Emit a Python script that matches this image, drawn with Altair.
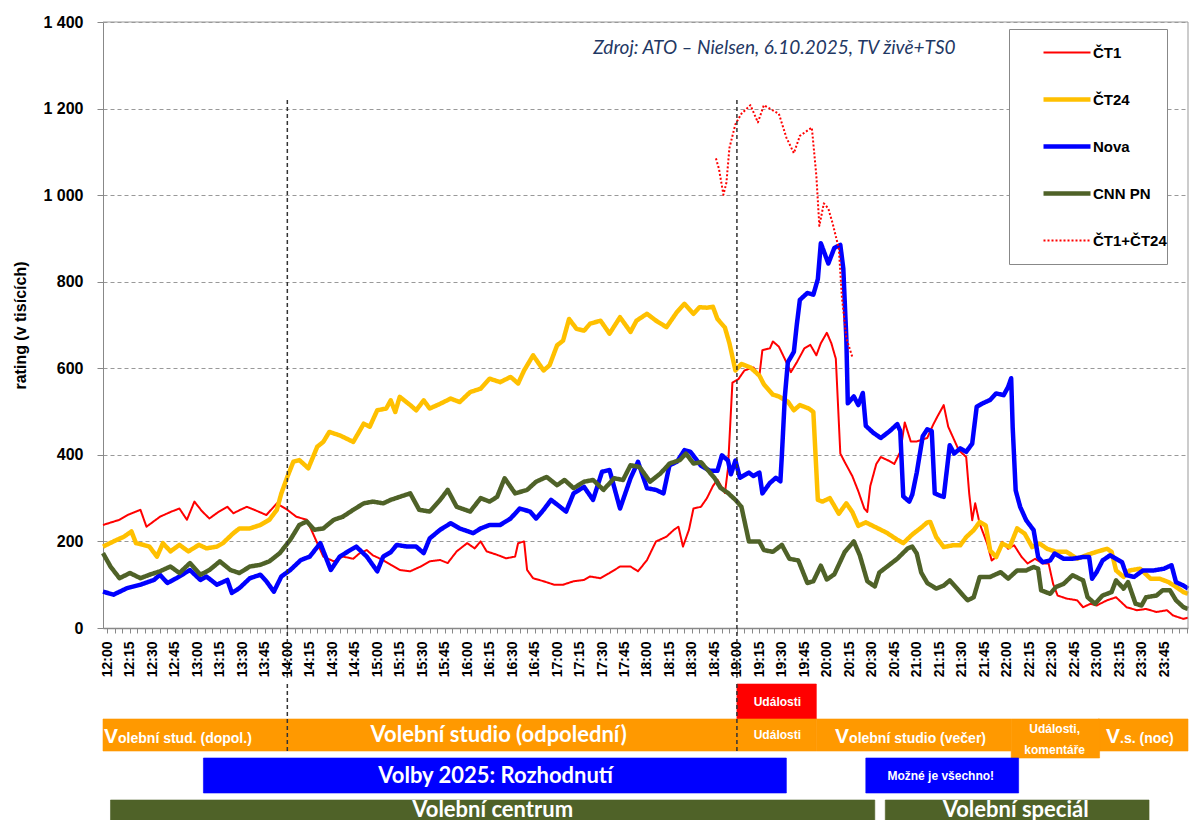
import altair as alt
import pandas as pd

# ---------------- data: (minutes after 12:00, rating in thousands) ----------------
CT1 = [(-3,238),(8,250),(14,262),(22,273),(26,234),(35,257),(42,268),(48,276),(53,250),(58,292),(63,270),(68,253),(74,268),(80,280),(84,265),(88,272),(93,280),(100,270),(106,261),(113,288),(120,273),(126,257),(133,250),(140,196),(144,165),(151,154),(157,165),(164,160),(168,172),(173,180),(177,168),(182,160),(189,146),(195,134),(202,131),(209,142),(215,154),(222,157),(227,150),(233,177),(240,196),(245,184),(249,200),(253,177),(260,169),(266,161),(272,165),(274,196),(278,200),(280,134),(284,115),(291,108),(298,100),(304,100),(311,108),(318,111),(322,119),(329,115),(335,127),(342,142),(349,142),(354,131),(360,157),(366,200),(373,211),(378,227),(381,234),(384,188),(388,227),(391,276),(396,280),(400,300),(404,328),(407,343),(412,312),(414,367),(417,567),(421,575),(425,595),(431,602),(435,583),(437,642),(442,646),(444,662),(448,650),(453,614),(456,591),(460,614),(465,646),(469,654),(473,630),(476,658),(480,682),(483,658),(486,622),(489,403),(492,383),(497,351),(501,316),(505,276),(507,268),(509,328),(513,379),(516,395),(521,387),(525,379),(529,407),(532,475),(536,431),(540,431),(547,439),(551,470),(554,490),(558,515),(561,465),(564,442),(568,411),(573,395),(575,311),(577,249),(579,288),(582,241),(587,195),(590,156),(593,164),(597,199),(601,183),(605,191),(610,164),(614,149),(619,160),(624,149),(628,149),(631,102),(634,75),(640,68),(647,64),(651,48),(656,56),(660,52),(667,64),(673,71),(680,48),(687,41),(693,44),(700,37),(707,41),(711,29),(718,21),(721,24)]

CT24 = [(-3,188),(4,200),(11,211),(16,223),(19,196),(24,192),(28,188),(33,165),(37,196),(42,177),(48,192),(54,177),(61,192),(66,184),(73,188),(77,196),(84,219),(88,230),(95,230),(102,238),(108,250),(113,273),(116,311),(120,349),(124,384),(128,388),(134,369),(140,419),(144,430),(148,453),(155,445),(164,430),(171,472),(175,465),(180,503),(186,507),(189,526),(192,499),(195,534),(202,515),(206,503),(211,526),(215,507),(222,518),(229,530),(235,522),(242,545),(249,553),(255,576),(262,568),(269,580),(274,565),(278,595),(284,630),(291,595),(295,607),(300,653),(304,664),(308,714),(313,691),(318,687),(322,703),(329,710),(335,680),(342,718),(349,684),(353,710),(360,726),(366,710),(373,695),(380,730),(385,749),(391,726),(395,741),(400,740),(404,742),(407,714),(412,694),(415,658),(419,595),(423,610),(429,602),(435,583),(438,563),(444,539),(448,535),(454,523),(458,503),(462,515),(468,507),(471,499),(474,296),(477,292),(482,300),(488,264),(493,288),(497,268),(501,236),(506,244),(513,232),(520,220),(527,204),(531,196),(537,216),(543,232),(547,244),(549,245),(553,210),(558,187),(564,191),(569,191),(573,210),(578,226),(582,245),(586,237),(589,179),(593,164),(597,195),(602,187),(607,230),(612,218),(617,187),(622,195),(627,183),(633,176),(640,176),(647,160),(653,168),(660,176),(667,183),(670,176),(673,133),(678,118),(682,133),(689,137),(696,114),(702,114),(708,106),(713,95),(718,83),(721,79)]

NOVA = [(-3,84),(4,77),(13,92),(22,100),(31,111),(35,123),(40,104),(46,115),(55,134),(62,111),(66,119),(73,100),(80,111),(83,81),(88,92),(95,115),(102,123),(106,108),(111,84),(116,119),(122,134),(129,157),(135,165),(142,196),(149,134),(155,165),(162,180),(166,188),(173,165),(180,131),(184,165),(189,175),(193,192),(200,188),(206,188),(211,173),(215,207),(222,227),(229,242),(235,230),(244,219),(249,230),(255,238),(262,238),(269,253),(275,276),(282,269),(286,253),(291,273),(296,296),(302,280),(306,269),(311,311),(318,326),(324,296),(330,361),(335,365),(342,276),(349,346),(354,384),(360,323),(366,319),(371,311),(375,376),(380,384),(385,411),(389,407),(396,375),(402,363),(407,363),(410,399),(414,387),(416,355),(419,387),(422,347),(428,359),(431,351),(435,359),(437,311),(442,335),(446,347),(449,339),(450,399),(452,535),(454,614),(458,638),(460,702),(462,758),(467,774),(471,770),(474,806),(476,889),(481,842),(485,878),(489,885),(491,830),(493,670),(494,519),(498,535),(501,515),(504,543),(506,467),(511,451),(516,439),(522,455),(527,471),(529,455),(531,304),(535,292),(537,308),(540,359),(544,443),(547,459),(550,455),(552,311),(556,305),(558,303),(562,422),(565,403),(569,415),(573,407),(577,426),(580,511),(584,519),(589,527),(593,542),(598,538),(601,557),(603,577),(604,465),(606,318),(609,280),(613,249),(618,226),(621,164),(624,152),(629,156),(632,172),(638,160),(644,160),(651,164),(655,164),(657,114),(660,129),(664,156),(669,168),(673,160),(677,152),(680,122),(685,118),(691,133),(698,133),(705,137),(710,145),(713,106),(718,98),(721,91)]

CNN = [(-3,173),(2,142),(8,115),(15,127),(22,115),(28,123),(35,131),(42,142),(48,127),(55,150),(62,123),(68,134),(75,154),(82,134),(88,127),(95,142),(102,146),(108,154),(115,173),(122,204),(128,238),(133,246),(138,227),(144,230),(151,250),(157,257),(164,273),(171,288),(177,292),(184,288),(189,296),(195,303),(202,311),(208,273),(215,269),(222,296),(227,319),(233,280),(242,269),(249,300),(255,292),(260,303),(265,346),(272,311),(280,319),(286,338),(293,349),(300,330),(305,342),(311,323),(318,338),(324,342),(331,319),(338,346),(344,342),(349,376),(355,372),(362,338),(369,357),(375,380),(382,388),(386,403),(391,380),(396,383),(400,367),(405,347),(409,324),(414,312),(419,296),(423,280),(428,200),(435,200),(438,180),(444,176),(450,192),(455,160),(461,156),(467,104),(471,108),(476,144),(480,112),(485,124),(492,176),(498,200),(502,168),(507,108),(512,96),(515,128),(521,144),(527,160),(534,184),(537,188),(540,172),(543,128),(547,104),(553,91),(558,98),(562,110),(567,91),(571,75),(574,64),(578,71),(582,118),(589,118),(596,129),(601,114),(607,133),(613,133),(618,141),(621,137),(623,87),(629,79),(633,95),(638,102),(644,122),(651,110),(654,71),(659,56),(664,75),(670,83),(673,110),(678,91),(681,106),(686,56),(690,52),(693,71),(700,75),(704,87),(709,87),(713,64),(718,48),(721,44)]

CT1_CT24 = [(406,1085),(408,1061),(411,1001),(413,1029),(415,1109),(419,1164),(423,1188),(429,1208),(434,1168),(438,1208),(444,1196),(448,1188),(453,1133),(458,1097),(462,1137),(467,1149),(470,1156),(473,1045),(475,929),(478,981),(481,969),(484,933),(488,877),(490,766),(493,670),(497,626)]

SERIES = ["ČT1", "ČT24", "Nova", "CNN PN", "ČT1+ČT24"]
SERIES_DATA = [CT1, CT24, NOVA, CNN, CT1_CT24]
COLORS = ["#FF0000", "#FFC000", "#0000FF", "#4F6228", "#FF0000"]
WIDTHS = [2, 4.5, 4.5, 4.5, 2]
DASHES = [[1, 0], [1, 0], [1, 0], [1, 0], [2, 2]]

Y_TICKS = list(range(0, 1401, 200))
X_TICKS = list(range(0, 721, 5))
MARK_TIMES = [120, 420]          # 14:00 and 19:00
SOURCE = "Zdroj: ATO – Nielsen, 6.10.2025, TV živě+TS0"

# programme schedule bars (minutes after 12:00)
BAR_START = [420, -3, 120, 420, 473, 661, 603, 64, 506, 2, 519]
BAR_END = [473, 120, 420, 473, 603, 721, 662, 453, 608, 512, 695]
BAR_ROW = ["red", "orange", "orange", "orange", "orange", "orange", "orange_tall", "blue", "blue", "green", "green"]
BAR_COLOR = ["#FF0000", "#FF9900", "#FF9900", "#FF9900", "#FF9900", "#FF9900", "#FF9900",
             "#0000FF", "#0000FF", "#4F6228", "#4F6228"]

BIG_LABELS = ["Volební studio (odpolední)", "Volby 2025: Rozhodnutí", "Volební centrum", "Volební speciál"]
BIG_T = [261, 259, 257, 606]
BIG_ROW = ["orange", "blue", "green", "green"]

SMALL_LABELS = ["Události", "Události", "Možné je všechno!"]
SMALL_T = [447, 447, 556]
SMALL_ROW = ["red", "orange", "blue"]

TWO_LINE_LABEL = ["Události,\nkomentáře"]
TWO_LINE_T = [632]

INITIAL_T = [-2.3, 485.5, 666.3]
INITIAL_REST = ["olební stud. (dopol.)", "olební studio (večer)", ".s. (noc)"]

# ---------------- layout ----------------
BAND_H = 150
ROW_SPAN = {"red": (0, 35), "orange": (35, 67), "orange_tall": (35, 74), "blue": (74, 109), "green": (116, BAND_H)}
GREEN_TEXT_Y = 126
FONT = "Liberation Sans"
PLOT_W, PLOT_H = 1085, 606

rows = []
for name, pts in zip(SERIES, SERIES_DATA):
    for t, v in pts:
        rows.append({"series": name, "t": t, "v": v})
df = pd.DataFrame(rows)

XLAB = ("datum.value % 15 == 0 && datum.value < 720 ? "
        "(12 + floor(datum.value / 60)) + ':' + (datum.value % 60 < 10 ? '0' : '') + (datum.value % 60) : ''")
YLAB = "replace(format(datum.value, ','), ',', ' ')"
LEGLAB = "datum.label + '\u00a0\u00a0\u00a0\u00a0\u00a0'"

xs = alt.Scale(domain=[-3, 721], nice=False, zero=False)
ys = alt.Scale(domain=[0, 1400], nice=False, zero=True)
x_axis = alt.Axis(values=X_TICKS, labelExpr=XLAB, labelAngle=270, labelFont=FONT, labelFontSize=14,
                  labelFontWeight="bold", labelColor="black", labelPadding=8, labelOverlap=False,
                  labelFlush=False, tickSize=5, tickColor="#888888", tickWidth=1,
                  domainColor="#888888", domainWidth=1.5, grid=False, title=None)
y_axis = alt.Axis(values=Y_TICKS, labelExpr=YLAB, labelFont=FONT, labelFontSize=16, labelFontWeight="bold",
                  labelColor="black", labelPadding=14, tickSize=6, tickColor="#888888",
                  domainColor="#888888", grid=True, gridColor="#999999", gridDash=[4, 3], gridWidth=1,
                  title="rating (v tisících)", titleFont=FONT, titleFontSize=16, titleFontWeight="bold",
                  titleColor="black", titlePadding=14)
X = alt.X("t:Q", scale=xs, axis=x_axis)
Y = alt.Y("v:Q", scale=ys, axis=y_axis)

LEG = alt.Legend(orient="none", legendX=906, legendY=7, title=None, symbolType="stroke", symbolSize=2209,
                 symbolOffset=32, labelOffset=0, labelFont=FONT, labelFontSize=15, labelFontWeight="bold",
                 labelColor="black", fillColor="white", strokeColor="#888888", padding=0, rowPadding=0,
                 clipHeight=47, labelLimit=300, labelExpr=LEGLAB)

color_enc = alt.Color("series:N", scale=alt.Scale(domain=SERIES, range=COLORS), legend=LEG)
width_enc = alt.StrokeWidth("series:N", scale=alt.Scale(type="ordinal", domain=SERIES, range=WIDTHS), legend=LEG)
dash_enc = alt.StrokeDash("series:N", scale=alt.Scale(domain=SERIES, range=DASHES), legend=LEG)

lines = [
    alt.Chart(df).transform_filter(alt.datum.series == s)
    .mark_line(strokeJoin="round", strokeCap="butt")
    .encode(x=X, y=Y, color=color_enc, strokeWidth=width_enc, strokeDash=dash_enc)
    for s in SERIES
]

vlines = alt.Chart(pd.DataFrame({"t": MARK_TIMES, "v": [1220, 1220]})).mark_rule(
    color="#333333", strokeDash=[4, 3], strokeWidth=1.5
).encode(x=X, y=Y, y2=alt.value(PLOT_H + 50))

top_border = alt.Chart(pd.DataFrame({"t": [-3], "t2": [721], "v": [1400]})).mark_rule(
    color="#999999").encode(x=X, x2="t2:Q", y=Y)
right_border = alt.Chart(pd.DataFrame({"t": [721], "v": [0], "v2": [1400]})).mark_rule(
    color="#999999").encode(x=X, y=Y, y2="v2:Q")

src = alt.Chart(pd.DataFrame({"t": [445], "v": [1341], "label": [SOURCE]})).mark_text(
    font="Lato", fontStyle="italic", fontSize=19, color="#1F3864"
).encode(x=X, y=Y, text="label:N")

top = alt.layer(*lines, vlines, top_border, right_border, src).properties(width=PLOT_W, height=PLOT_H)

# ---------------- programme band ----------------
bars = pd.DataFrame({
    "t0": BAR_START, "t1": BAR_END,
    "y0": [ROW_SPAN[r][0] for r in BAR_ROW], "y1": [ROW_SPAN[r][1] for r in BAR_ROW],
    "col": BAR_COLOR,
})
bx = alt.Scale(domain=[-3, 721], nice=False, zero=False)
by = alt.Scale(domain=[0, BAND_H], reverse=True, nice=False, zero=False)
BX = lambda f: alt.X(f, scale=bx, axis=None)
BY = lambda f: alt.Y(f, scale=by, axis=None)

bar_layer = alt.Chart(bars).mark_rect(strokeWidth=0.6).encode(
    x=BX("t0:Q"), x2="t1:Q", y=BY("y0:Q"), y2="y1:Q",
    color=alt.Color("col:N", scale=None), stroke=alt.Stroke("col:N", scale=None),
)

def center(r):
    return (ROW_SPAN[r][0] + ROW_SPAN[r][1]) / 2

big_df = pd.DataFrame({"t": BIG_T, "py": [center(r) if r != "green" else GREEN_TEXT_Y for r in BIG_ROW],
                       "label": BIG_LABELS})
big = alt.Chart(big_df).mark_text(font="Lato", fontSize=22, fontWeight="bold", color="white",
                                  align="center", baseline="middle").encode(
    x=BX("t:Q"), y=BY("py:Q"), text="label:N")

small_df = pd.DataFrame({"t": SMALL_T, "py": [center(r) for r in SMALL_ROW], "label": SMALL_LABELS})
small = alt.Chart(small_df).mark_text(font=FONT, fontSize=12, fontWeight="bold", color="white",
                                      align="center", baseline="middle").encode(
    x=BX("t:Q"), y=BY("py:Q"), text="label:N")

two_df = pd.DataFrame({"t": TWO_LINE_T, "py": [center("orange_tall")], "label": TWO_LINE_LABEL})
two = alt.Chart(two_df).mark_text(font=FONT, fontSize=12, fontWeight="bold", color="white",
                                  align="center", baseline="middle", lineBreak="\n", lineHeight=21,
                                  dy=-10).encode(
    x=BX("t:Q"), y=BY("py:Q"), text="label:N")

ini_df = pd.DataFrame({"t": INITIAL_T, "py": [center("orange")] * 3, "v": ["V"] * 3, "rest": INITIAL_REST})
ini = alt.Chart(ini_df).mark_text(font=FONT, fontSize=21, fontWeight="bold", color="white",
                                  align="left", baseline="alphabetic", dy=8).encode(
    x=BX("t:Q"), y=BY("py:Q"), text="v:N")
rest = alt.Chart(ini_df).mark_text(font=FONT, fontSize=14, fontWeight="bold", color="white",
                                   align="left", baseline="alphabetic", dy=8, dx=14).encode(
    x=BX("t:Q"), y=BY("py:Q"), text="rest:N")

brules = alt.Chart(pd.DataFrame({"t": MARK_TIMES, "y0": [0, 0], "y1": [ROW_SPAN["orange"][1]] * 2})).mark_rule(
    color="#333333", strokeDash=[4, 3], strokeWidth=1.5
).encode(x=BX("t:Q"), y=BY("y0:Q"), y2="y1:Q")

bottom = alt.layer(bar_layer, big, small, two, ini, rest, brules).properties(width=PLOT_W, height=BAND_H)

chart = alt.vconcat(top, bottom, spacing=2).properties(
    padding={"left": 4, "top": 5, "right": 0, "bottom": 0}
).configure_view(stroke="transparent")

chart.save("out.html", embed_options={"renderer": "svg", "actions": False})
